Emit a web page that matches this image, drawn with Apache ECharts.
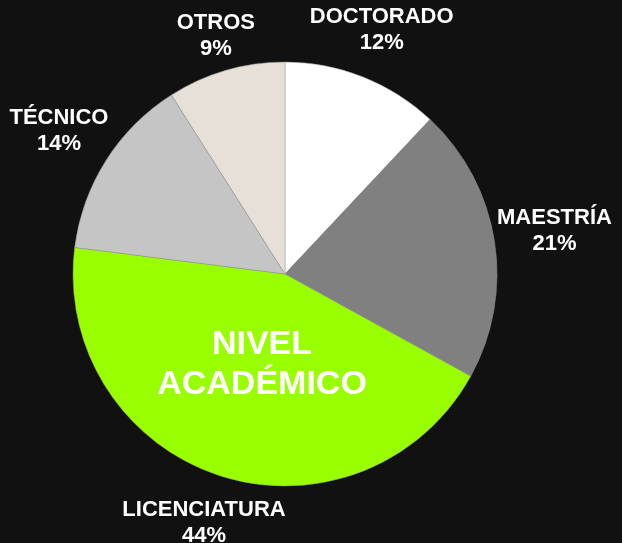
<!DOCTYPE html>
<html>
<head>
<meta charset="utf-8">
<script src="https://cdn.jsdelivr.net/npm/echarts@6/dist/echarts.min.js"></script>
<style>
  html, body { margin: 0; padding: 0; background: #111111; }
  #chart { width: 622px; height: 543px; }
</style>
</head>
<body>
<div id="chart"></div>
<script>
var categories = ['DOCTORADO', 'MAESTRÍA', 'LICENCIATURA', 'TÉCNICO', 'OTROS'];
var values = [12, 21, 44, 14, 9];
var colors = ['#ffffff', '#808080', '#99ff00', '#c5c5c5', '#e6e0d8'];
var centerText = 'NIVEL\nACADÉMICO';

var data = [];
for (var i = 0; i < categories.length; i++) {
	data[i] = {
		name: categories[i],
		value: values[i],
		itemStyle: { color: colors[i] }
	};
}

var font = '"Liberation Sans", Arial, Helvetica, sans-serif';

var option = {
	animation: false,
	backgroundColor: '#111111',
	graphic: [{
		type: 'text',
		x: 262,
		y: 365,
		z: 100,
		style: {
			text: centerText,
			fill: '#ffffff',
			font: 'bold 34px ' + font,
			lineHeight: 40,
			align: 'center',
			verticalAlign: 'middle'
		}
	}],
	series: [{
		type: 'pie',
		center: [285, 274],
		radius: 212,
		startAngle: 90,
		clockwise: true,
		itemStyle: {
			borderColor: '#999999',
			borderWidth: 0.5
		},
		label: {
			show: true,
			position: 'outside',
			formatter: '{b}\n{c}%',
			color: '#ffffff',
			fontFamily: font,
			fontWeight: 'bold',
			fontSize: 22,
			lineHeight: 26,
			align: 'center',
			overflow: 'none'
		},
		labelLine: {
			show: true,
			length: 1,
			length2: 0,
			lineStyle: { opacity: 0 }
		},
		// push each label outward along its slice direction so its box sits just off the rim
		labelLayout: function (p) {
			var pts = p.labelLinePoints;
			if (!pts || pts.length < 2) {
				return {};
			}
			var dx = pts[1][0] - pts[0][0];
			var dy = pts[1][1] - pts[0][1];
			var len = Math.sqrt(dx * dx + dy * dy) || 1;
			dx /= len;
			dy /= len;
			var w = p.labelRect.width, h = p.labelRect.height;
			var ext = w / 2 * Math.abs(dx) + h / 2 * Math.abs(dy);
			return {
				x: pts[0][0] + dx * ext,
				y: pts[0][1] + dy * ext,
				align: 'center',
				verticalAlign: 'middle'
			};
		},
		data: data
	}]
};

echarts.init(document.getElementById('chart')).setOption(option);
</script>
</body>
</html>
